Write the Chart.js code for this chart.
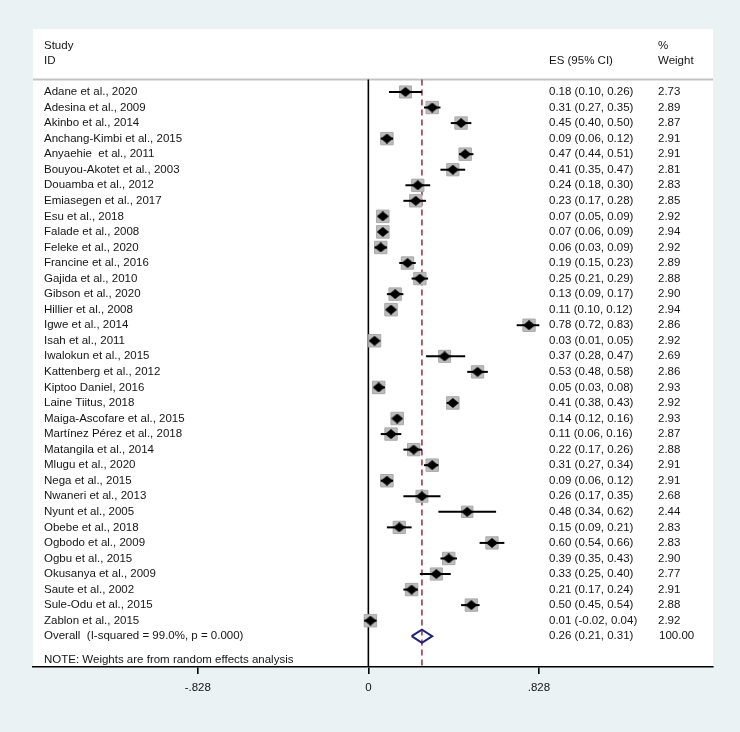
<!DOCTYPE html>
<html>
<head>
<meta charset="utf-8">
<script src="https://cdn.jsdelivr.net/npm/chart.js@4.4.1/dist/chart.umd.min.js"></script>
<style>
  html, body { margin: 0; padding: 0; background: #eaf2f3; }
  #forest { display: block; }
</style>
</head>
<body>
<canvas id="forest" width="740" height="732"></canvas>
<script>
// Forest plot - proportion per study, random effects
const studies = [
  'Adane et al., 2020', 'Adesina et al., 2009', 'Akinbo et al., 2014', 'Anchang-Kimbi et al., 2015',
  'Anyaehie  et al., 2011', 'Bouyou-Akotet et al., 2003', 'Douamba et al., 2012', 'Emiasegen et al., 2017',
  'Esu et al., 2018', 'Falade et al., 2008', 'Feleke et al., 2020', 'Francine et al., 2016',
  'Gajida et al., 2010', 'Gibson et al., 2020', 'Hillier et al., 2008', 'Igwe et al., 2014',
  'Isah et al., 2011', 'Iwalokun et al., 2015', 'Kattenberg et al., 2012', 'Kiptoo Daniel, 2016',
  'Laine Tiitus, 2018', 'Maiga-Ascofare et al., 2015', 'Martínez Pérez et al., 2018', 'Matangila et al., 2014',
  'Mlugu et al., 2020', 'Nega et al., 2015', 'Nwaneri et al., 2013', 'Nyunt et al., 2005',
  'Obebe et al., 2018', 'Ogbodo et al., 2009', 'Ogbu et al., 2015', 'Okusanya et al., 2009',
  'Saute et al., 2002', 'Sule-Odu et al., 2015', 'Zablon et al., 2015'
];
const es = [0.18, 0.31, 0.45, 0.09, 0.47, 0.41, 0.24, 0.23, 0.07, 0.07, 0.06, 0.19, 0.25, 0.13, 0.11, 0.78,
  0.03, 0.37, 0.53, 0.05, 0.41, 0.14, 0.11, 0.22, 0.31, 0.09, 0.26, 0.48, 0.15, 0.60, 0.39, 0.33, 0.21, 0.50, 0.01];
const ciLow = [0.10, 0.27, 0.40, 0.06, 0.44, 0.35, 0.18, 0.17, 0.05, 0.06, 0.03, 0.15, 0.21, 0.09, 0.10, 0.72,
  0.01, 0.28, 0.48, 0.03, 0.38, 0.12, 0.06, 0.17, 0.27, 0.06, 0.17, 0.34, 0.09, 0.54, 0.35, 0.25, 0.17, 0.45, -0.02];
const ciHigh = [0.26, 0.35, 0.50, 0.12, 0.51, 0.47, 0.30, 0.28, 0.09, 0.09, 0.09, 0.23, 0.29, 0.17, 0.12, 0.83,
  0.05, 0.47, 0.58, 0.08, 0.43, 0.16, 0.16, 0.26, 0.34, 0.12, 0.35, 0.62, 0.21, 0.66, 0.43, 0.40, 0.24, 0.54, 0.04];
const weights = [2.73, 2.89, 2.87, 2.91, 2.91, 2.81, 2.83, 2.85, 2.92, 2.94, 2.92, 2.89, 2.88, 2.90, 2.94, 2.86,
  2.92, 2.69, 2.86, 2.93, 2.92, 2.93, 2.87, 2.88, 2.91, 2.91, 2.68, 2.44, 2.83, 2.83, 2.90, 2.77, 2.91, 2.88, 2.92];

const overallLabel = 'Overall  (I-squared = 99.0%, p = 0.000)';
const overallEs = 0.26;
const overallLow = 0.21;
const overallHigh = 0.31;
const overallWeight = 100.00;
const noteText = 'NOTE: Weights are from random effects analysis';

const xTickValues = [-0.828, 0, 0.828];
const xTickLabels = ['-.828', '0', '.828'];

// row positions (y scale units)
const overallRow = studies.length;
const headerLineRow = -0.8;
const FONT = '11.5px "Liberation Sans", Arial, sans-serif';
const TEXT = '#151515';

// black diamond marker
const diamond = document.createElement('canvas');
diamond.width = 12; diamond.height = 10;
(function () {
  const c = diamond.getContext('2d');
  c.fillStyle = '#000';
  c.beginPath();
  c.moveTo(0, 5); c.lineTo(6, 0); c.lineTo(12, 5); c.lineTo(6, 10);
  c.closePath();
  c.fill();
})();

const fmt = v => v.toFixed(2);

const ciSets = studies.map((s, i) => ({
  data: [{ x: ciLow[i], y: i }, { x: ciHigh[i], y: i }],
  showLine: true,
  borderColor: '#000',
  borderWidth: 2,
  pointRadius: 0,
  order: 1
}));

const tablePlugin = {
  id: 'tablePlugin',
  beforeDraw(chart) {
    const { ctx, chartArea } = chart;
    ctx.save();
    ctx.fillStyle = '#eaf2f3';
    ctx.fillRect(0, 0, chart.width, chart.height);
    ctx.fillStyle = '#fff';
    ctx.fillRect(chartArea.left, chartArea.top, chartArea.right - chartArea.left, chartArea.bottom - chartArea.top);
    ctx.restore();
  },
  beforeDatasetsDraw(chart) {
    const { ctx, chartArea, scales } = chart;
    const y = scales.y;
    const left = chartArea.left + 11;
    const esCol = 549, wCol = 658;
    ctx.save();
    // header separator
    ctx.strokeStyle = '#c4c4c4';
    ctx.lineWidth = 2;
    ctx.beginPath();
    ctx.moveTo(chartArea.left, y.getPixelForValue(headerLineRow));
    ctx.lineTo(chartArea.right, y.getPixelForValue(headerLineRow));
    ctx.stroke();

    ctx.font = FONT;
    ctx.fillStyle = TEXT;
    ctx.textBaseline = 'middle';
    ctx.textAlign = 'left';
    ctx.fillText('Study', left, y.getPixelForValue(-2.95));
    ctx.fillText('ID', left, y.getPixelForValue(-2.0));
    ctx.fillText('ES (95% CI)', esCol, y.getPixelForValue(-2.0));
    ctx.fillText('%', wCol, y.getPixelForValue(-2.95));
    ctx.fillText('Weight', wCol, y.getPixelForValue(-2.0));

    studies.forEach((s, i) => {
      const py = y.getPixelForValue(i);
      ctx.fillText(s, left, py);
      ctx.fillText(fmt(es[i]) + ' (' + fmt(ciLow[i]) + ', ' + fmt(ciHigh[i]) + ')', esCol, py);
      ctx.fillText(fmt(weights[i]), wCol, py);
    });
    const po = y.getPixelForValue(overallRow);
    ctx.fillText(overallLabel, left, po);
    ctx.fillText(fmt(overallEs) + ' (' + fmt(overallLow) + ', ' + fmt(overallHigh) + ')', esCol, po);
    ctx.fillText(fmt(overallWeight), wCol + 1, po);
    ctx.fillText(noteText, left, y.getPixelForValue(36.5));
    ctx.restore();
  }
};

new Chart(document.getElementById('forest'), {
  type: 'scatter',
  data: {
    datasets: [
      {
        // point estimates
        data: es.map((v, i) => ({ x: v, y: i })),
        pointStyle: diamond,
        order: 0
      },
      ...ciSets,
      {
        // weight boxes
        data: es.map((v, i) => ({ x: v, y: i })),
        pointStyle: 'rect',
        pointRadius: weights.map(w => 12.5 * Math.sqrt(w / 2.94) / Math.SQRT2),
        backgroundColor: '#bcbcbc',
        borderColor: '#a8a8a8',
        borderWidth: 1,
        order: 2
      },
      {
        // overall diamond
        data: [
          { x: overallLow, y: overallRow },
          { x: overallEs, y: overallRow - 0.42 },
          { x: overallHigh, y: overallRow },
          { x: overallEs, y: overallRow + 0.42 },
          { x: overallLow, y: overallRow }
        ],
        showLine: true,
        borderColor: '#1f2370',
        borderWidth: 2,
        borderJoinStyle: 'miter',
        pointRadius: 0,
        order: 0
      },
      {
        // overall effect line
        data: [{ x: overallEs, y: headerLineRow }, { x: overallEs, y: 36.98 }],
        showLine: true,
        borderColor: '#a33b45',
        borderWidth: 1.6,
        borderDash: [6, 4],
        pointRadius: 0,
        order: 3
      },
      {
        // null line
        data: [{ x: 0, y: headerLineRow }, { x: 0, y: 36.98 }],
        showLine: true,
        borderColor: '#000',
        borderWidth: 1.6,
        pointRadius: 0,
        order: 3
      }
    ]
  },
  options: {
    responsive: false,
    animation: false,
    events: [],
    layout: { padding: { left: 33, right: 27, top: 29, bottom: 35 } },
    plugins: { legend: { display: false }, tooltip: { enabled: false } },
    scales: {
      x: {
        type: 'linear',
        min: -1.628,
        max: 1.673,
        afterBuildTicks(scale) {
          scale.ticks = xTickValues.map(v => ({ value: v }));
        },
        afterFit(scale) { scale.height = 30; },
        ticks: {
          autoSkip: false,
          maxRotation: 0,
          padding: 7,
          font: { family: '"Liberation Sans", Arial, sans-serif', size: 11.5 },
          color: TEXT,
          callback: (v, i) => xTickLabels[i]
        },
        grid: { drawOnChartArea: false, drawTicks: true, tickLength: 7, color: '#000', lineWidth: 1.6 },
        border: { display: true, color: '#000', width: 1.6 }
      },
      y: {
        type: 'linear',
        display: false,
        reverse: true,
        min: -4.05,
        max: 36.98
      }
    }
  },
  plugins: [tablePlugin]
});
</script>
</body>
</html>
